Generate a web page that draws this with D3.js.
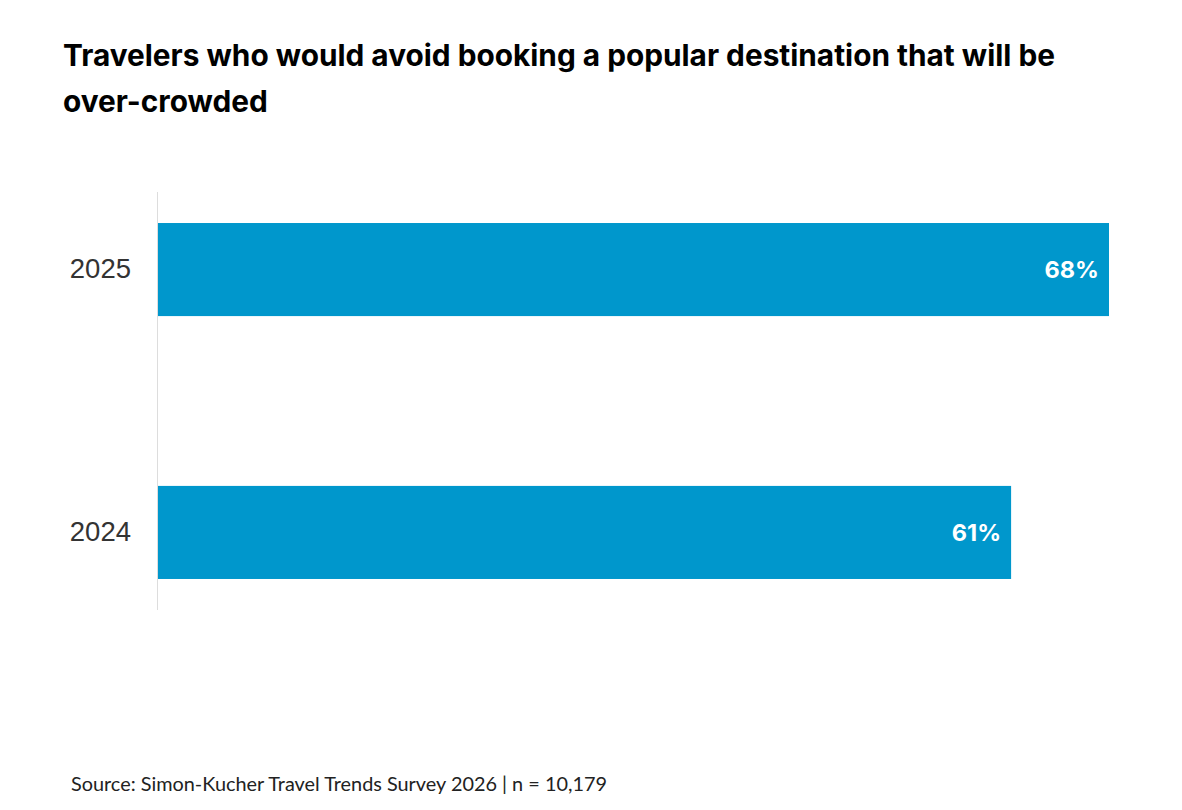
<!DOCTYPE html>
<html>
<head>
<meta charset="utf-8">
<script src="https://cdn.jsdelivr.net/npm/d3@7"></script>
<style>
  body { margin: 0; background: #fff; }
</style>
</head>
<body>
<svg id="chart" width="1182" height="810"></svg>
<script>
var years = ["2025", "2024"];
var shares = [68, 61];
var titleLines = ["Travelers who would avoid booking a popular destination that will be", "over-crowded"];
var sourceText = "Source: Simon-Kucher Travel Trends Survey 2026 | n = 10,179";

var svg = d3.select("svg#chart");

var x0 = 158, x68 = 1109;
var x = d3.scaleLinear()
    .domain([0, 68])
    .range([x0, x68]);

var y = d3.scaleBand()
    .domain(years)
    .range([192, 610])
    .paddingInner(0.646)
    .paddingOuter(0.118);

// title
svg.append("g")
    .selectAll("text")
    .data(titleLines)
    .enter().append("text")
    .attr("x", 63)
    .attr("y", function(d, i) { return 66 + i * 46; })
    .attr("font-family", "Inter, sans-serif")
    .attr("font-weight", 700)
    .attr("font-size", 29.8)
    .attr("fill", "#000")
    .text(function(d) { return d; });

// axis line
svg.append("line")
    .attr("x1", x0 - 0.5).attr("x2", x0 - 0.5)
    .attr("y1", 192).attr("y2", 610)
    .attr("stroke", "#dddddd")
    .attr("stroke-width", 1);

var yAxis = svg.append("g")
    .attr("transform", "translate(" + x0 + ",0)")
    .call(d3.axisLeft(y).tickSize(0).tickPadding(27));
yAxis.select(".domain").remove();
yAxis.selectAll("text")
    .attr("font-family", "'Liberation Sans', Arial, sans-serif")
    .attr("font-size", 27.5)
    .attr("fill", "#333");

var bars = svg.append("g")
    .selectAll("g")
    .data(years)
    .enter().append("g");

bars.append("rect")
    .attr("x", x(0))
    .attr("y", function(d) { return y(d); })
    .attr("width", function(d, i) { return x(shares[i]) - x(0); })
    .attr("height", y.bandwidth())
    .attr("fill", "#0097cc");

bars.append("text")
    .attr("x", function(d, i) { return x(shares[i]) - 10; })
    .attr("y", function(d) { return y(d) + y.bandwidth() / 2; })
    .attr("dy", "0.35em")
    .attr("text-anchor", "end")
    .attr("font-family", "Inter, sans-serif")
    .attr("font-weight", 700)
    .attr("font-size", 23.5)
    .attr("fill", "#fff")
    .text(function(d, i) { return shares[i] + "%"; });

// source
svg.append("text")
    .attr("x", 71)
    .attr("y", 791)
    .attr("font-family", "Lato, sans-serif")
    .attr("font-size", 18.5)
    .attr("fill", "#222")
    .attr("textLength", 536)
    .attr("lengthAdjust", "spacingAndGlyphs")
    .text(sourceText);
</script>
</body>
</html>
